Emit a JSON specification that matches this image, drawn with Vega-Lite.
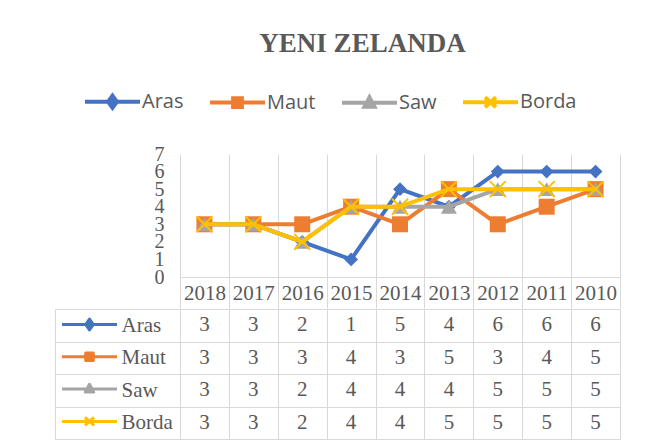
{
  "$schema": "https://vega.github.io/schema/vega-lite/v6.json",
  "padding": {"left": 54, "top": 30, "right": 30, "bottom": 8},
  "background": "#ffffff",
  "title": {"text": "YENI ZELANDA", "font": "Liberation Serif", "fontSize": 27, "fontWeight": "bold", "color": "#595959", "anchor": "middle", "offset": 14, "dx": 25},
  "datasets": {
    "scores": [
      {"series": "Aras", "year": 2018, "value": 3}, {"series": "Aras", "year": 2017, "value": 3}, {"series": "Aras", "year": 2016, "value": 2},
      {"series": "Aras", "year": 2015, "value": 1}, {"series": "Aras", "year": 2014, "value": 5}, {"series": "Aras", "year": 2013, "value": 4},
      {"series": "Aras", "year": 2012, "value": 6}, {"series": "Aras", "year": 2011, "value": 6}, {"series": "Aras", "year": 2010, "value": 6},
      {"series": "Maut", "year": 2018, "value": 3}, {"series": "Maut", "year": 2017, "value": 3}, {"series": "Maut", "year": 2016, "value": 3},
      {"series": "Maut", "year": 2015, "value": 4}, {"series": "Maut", "year": 2014, "value": 3}, {"series": "Maut", "year": 2013, "value": 5},
      {"series": "Maut", "year": 2012, "value": 3}, {"series": "Maut", "year": 2011, "value": 4}, {"series": "Maut", "year": 2010, "value": 5},
      {"series": "Saw", "year": 2018, "value": 3}, {"series": "Saw", "year": 2017, "value": 3}, {"series": "Saw", "year": 2016, "value": 2},
      {"series": "Saw", "year": 2015, "value": 4}, {"series": "Saw", "year": 2014, "value": 4}, {"series": "Saw", "year": 2013, "value": 4},
      {"series": "Saw", "year": 2012, "value": 5}, {"series": "Saw", "year": 2011, "value": 5}, {"series": "Saw", "year": 2010, "value": 5},
      {"series": "Borda", "year": 2018, "value": 3}, {"series": "Borda", "year": 2017, "value": 3}, {"series": "Borda", "year": 2016, "value": 2},
      {"series": "Borda", "year": 2015, "value": 4}, {"series": "Borda", "year": 2014, "value": 4}, {"series": "Borda", "year": 2013, "value": 5},
      {"series": "Borda", "year": 2012, "value": 5}, {"series": "Borda", "year": 2011, "value": 5}, {"series": "Borda", "year": 2010, "value": 5}
    ]
  },
  "data": {"name": "scores"},
  "spacing": -15,
  "resolve": {"scale": {"color": "independent"}, "legend": {"color": "independent"}},
  "vconcat": [
    {
      "width": 440,
      "height": 123,
      "encoding": {
        "x": {"field": "year", "type": "ordinal",
          "scale": {"type": "band", "domain": [2018, 2017, 2016, 2015, 2014, 2013, 2012, 2011, 2010], "paddingInner": 0, "paddingOuter": 0},
          "axis": {"orient": "bottom", "title": null, "tickBand": "extent", "ticks": true, "tickSize": 31, "domain": true, "grid": true,
                   "labelAngle": 0, "labelPadding": -15, "labelBaseline": "middle", "labelFontSize": 21}},
        "y": {"field": "value", "type": "quantitative",
          "scale": {"domain": [0, 7], "nice": false, "zero": true},
          "axis": {"title": null, "values": [0, 1, 2, 3, 4, 5, 6, 7], "labelOverlap": false, "ticks": false, "domain": false, "grid": false,
                   "labelPadding": 16, "labelFontSize": 20}},
        "color": {"field": "series", "type": "nominal",
          "scale": {"domain": ["Aras", "Maut", "Saw", "Borda"], "range": ["#4472C4", "#ED7D31", "#A5A5A5", "#FFC000"]},
          "legend": {"orient": "none", "legendX": -97, "legendY": -82, "direction": "horizontal", "title": null,
                     "symbolSize": 3025, "labelFont": "Open Sans", "labelFontSize": 20, "labelColor": "#595959",
                     "labelOffset": 0, "columnPadding": 18,
                     "encode": {"symbols": {"update": {
                       "shape": {"signal": "datum.value === 'Aras' ? 'M-1,0H1M0,-0.22L0.16,0L0,0.22L-0.16,0Z' : datum.value === 'Maut' ? 'M-1,0H1M-0.16,-0.16H0.16V0.16H-0.16Z' : datum.value === 'Saw' ? 'M-1,0H1M0,-0.2L0.18,0.14H-0.18Z' : 'M-1,0H1M-0.2,-0.18L0.2,0.18M-0.2,0.18L0.2,-0.18'"},
                       "fill": {"signal": "datum.value === 'Aras' ? '#4472C4' : datum.value === 'Maut' ? '#ED7D31' : datum.value === 'Saw' ? '#A5A5A5' : '#FFC000'"},
                       "stroke": {"signal": "datum.value === 'Aras' ? '#4472C4' : datum.value === 'Maut' ? '#ED7D31' : datum.value === 'Saw' ? '#A5A5A5' : '#FFC000'"},
                       "strokeWidth": {"value": 4}, "opacity": {"value": 1}, "fillOpacity": {"value": 1}, "strokeOpacity": {"value": 1}}}}}}
      },
      "layer": [
        {"transform": [{"filter": "datum.series === 'Aras'"}], "mark": {"type": "line", "strokeWidth": 4, "strokeJoin": "round", "strokeCap": "round"}},
        {"transform": [{"filter": "datum.series === 'Aras'"}], "mark": {"type": "point", "shape": "diamond", "filled": true, "size": 190, "strokeWidth": 1, "opacity": 1},
         "encoding": {"color": {"value": "#4472C4"}}},
        {"transform": [{"filter": "datum.series === 'Maut'"}], "mark": {"type": "line", "strokeWidth": 4, "strokeJoin": "round", "strokeCap": "round"}},
        {"transform": [{"filter": "datum.series === 'Maut'"}], "mark": {"type": "point", "shape": "square", "filled": true, "size": 256, "strokeWidth": 1, "opacity": 1},
         "encoding": {"color": {"value": "#ED7D31"}}},
        {"transform": [{"filter": "datum.series === 'Saw'"}], "mark": {"type": "line", "strokeWidth": 4, "strokeJoin": "round", "strokeCap": "round"}},
        {"transform": [{"filter": "datum.series === 'Saw'"}], "mark": {"type": "point", "shape": "triangle-up", "filled": true, "size": 256, "strokeWidth": 1, "opacity": 1},
         "encoding": {"color": {"value": "#A5A5A5"}}},
        {"transform": [{"filter": "datum.series === 'Borda'"}], "mark": {"type": "line", "strokeWidth": 4, "strokeJoin": "round", "strokeCap": "round"}},
        {"transform": [{"filter": "datum.series === 'Borda'"}], "mark": {"type": "point", "shape": "M-1,-1L1,1M-1,1L1,-1", "filled": false, "size": 256, "strokeWidth": 2, "opacity": 1},
         "encoding": {"color": {"value": "#FFC000"}}}
      ]
    },
    {
      "width": 440,
      "height": 130,
      "encoding": {
        "x": {"field": "year", "type": "ordinal",
          "scale": {"type": "band", "domain": [2018, 2017, 2016, 2015, 2014, 2013, 2012, 2011, 2010], "paddingInner": 0, "paddingOuter": 0},
          "axis": {"title": null, "labels": false, "ticks": false, "domain": false, "grid": true, "tickBand": "extent"}},
        "y": {"field": "series", "type": "nominal",
          "scale": {"type": "band", "domain": ["Aras", "Maut", "Saw", "Borda"], "paddingInner": 0, "paddingOuter": 0},
          "axis": {"title": null, "orient": "left", "offset": 125, "domain": true, "ticks": true, "tickSize": -125, "tickBand": "extent",
                   "grid": true, "labelAlign": "left", "labelBaseline": "middle", "labelPadding": 59, "labelFontSize": 21}}
      },
      "layer": [
        {"mark": {"type": "line", "strokeWidth": 0, "strokeOpacity": 0},
         "encoding": {
           "color": {"field": "series", "type": "nominal",
             "scale": {"domain": ["Aras", "Maut", "Saw", "Borda"], "range": ["#4472C4", "#ED7D31", "#A5A5A5", "#FFC000"]},
             "legend": {"orient": "none", "legendX": -102, "legendY": 4, "direction": "vertical", "title": null, "gridAlign": "all",
                        "symbolSize": 400, "labelExpr": "''", "labelFontSize": 1, "labelOffset": 0, "rowPadding": 9.3,
                        "encode": {"symbols": {"update": {
                          "shape": {"signal": "datum.value === 'Aras' ? 'M-2.75,-1M2.75,1M-2.75,0H2.75M0,-0.55L0.38,0L0,0.55L-0.38,0Z' : datum.value === 'Maut' ? 'M-2.75,-1M2.75,1M-2.75,0H2.75M-0.38,-0.38H0.38V0.38H-0.38Z' : datum.value === 'Saw' ? 'M-2.75,-1M2.75,1M-2.75,0H2.75M0,-0.48L0.42,0.3H-0.42Z' : 'M-2.75,-1M2.75,1M-2.75,0H2.75M-0.45,-0.4L0.45,0.4M-0.45,0.4L0.45,-0.4'"},
                          "fill": {"signal": "datum.value === 'Aras' ? '#4472C4' : datum.value === 'Maut' ? '#ED7D31' : datum.value === 'Saw' ? '#A5A5A5' : '#FFC000'"},
                          "stroke": {"signal": "datum.value === 'Aras' ? '#4472C4' : datum.value === 'Maut' ? '#ED7D31' : datum.value === 'Saw' ? '#A5A5A5' : '#FFC000'"},
                          "strokeJoin": {"value": "round"},
                          "strokeWidth": {"value": 3}, "opacity": {"value": 1}, "fillOpacity": {"value": 1}, "strokeOpacity": {"value": 1}}}}}}
         }},
        {"mark": {"type": "text", "font": "Liberation Serif", "fontSize": 21, "color": "#595959"},
         "encoding": {"text": {"field": "value", "type": "quantitative"}}}
      ]
    }
  ],
  "config": {
    "view": {"stroke": null},
    "axis": {"labelFont": "Liberation Serif", "labelColor": "#595959", "gridColor": "#d9d9d9", "domainColor": "#d9d9d9", "tickColor": "#d9d9d9", "gridWidth": 1, "domainWidth": 1, "tickWidth": 1}
  }
}
